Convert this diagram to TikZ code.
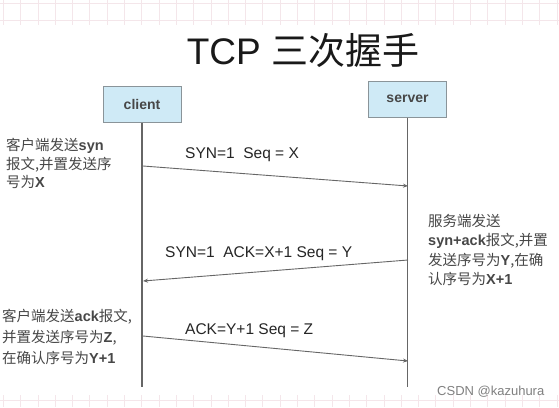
\documentclass[tikz,border=0pt]{standalone}
\usepackage{fontspec}
\setmainfont{Liberation Sans}
\newfontfamily\cjk{Noto Sans CJK SC}
\usetikzlibrary{arrows.meta,positioning}
\definecolor{boxblue}{HTML}{CFEAF6}
\definecolor{boxline}{HTML}{8A9499}
\definecolor{gridpink}{HTML}{F4E6EA}
\definecolor{wire}{HTML}{666666}
\newcommand{\zh}[1]{{\cjk #1}}

\begin{document}
\begin{tikzpicture}[x=1pt,y=-1pt,
	party/.style={draw=boxline,fill=boxblue,line width=1pt,minimum width=78pt,minimum height=36pt,inner sep=0pt,font=\fontsize{14}{18}\selectfont\bfseries,text=black!72},
	lifeline/.style={draw=wire,line width=1.1pt},
	msg/.style={draw=wire,line width=0.9pt,-{Stealth[length=5pt,width=4pt]}},
	msglabel/.style={anchor=west,inner sep=0pt,font=\fontsize{15.5}{18}\selectfont,text=black!85},
	note/.style={anchor=north west,align=left,inner sep=0pt,text=black!72}]
	\fill[white] (0,0) rectangle (559,407);
	\useasboundingbox (0,0) rectangle (559,407);
	% background grid of the screenshot
	\foreach \i in {0,...,32} {
		\draw[gridpink,line width=0.8pt] ({3.3+17.3*\i},0) -- ({3.3+17.3*\i},25);
		\draw[gridpink,line width=0.8pt] ({3.3+17.3*\i},395) -- ({3.3+17.3*\i},407);
	}
	\draw[gridpink,line width=0.8pt] (0,3.3) -- (559,3.3);
	\draw[gridpink,line width=0.8pt] (0,20.7) -- (559,20.7);
	\draw[gridpink,line width=0.8pt] (0,400.7) -- (559,400.7);

	\node[font=\fontsize{37}{42}\selectfont,text=black!90] (title) at (303,51) {TCP \zh{三次握手}};

	\node[party] (client) at (142,104) {client};
	\node[party] (server) at (407.5,99) {server};
	\coordinate (bottom) at (0,387);
	\draw[lifeline] (client.south) -- (client.south |- bottom);
	\draw[lifeline] (server.south) -- (server.south |- bottom);

	\coordinate (c1) at (143,166);
	\coordinate (s1) at (408,186);
	\coordinate (s2) at (408,260);
	\coordinate (c2) at (143,281);
	\coordinate (c3) at (143,336);
	\coordinate (s3) at (408,361);
	\draw[msg] (c1) -- (s1);
	\draw[msg] (s2) -- (c2);
	\draw[msg] (c3) -- (s3);

	\node[msglabel] (syn) at (185,155) {SYN=1\ \ Seq = X};
	\node[msglabel] (synack) at (165,254) {SYN=1\ \ ACK=X+1 Seq = Y};
	\node[msglabel] (ack) at (185,331) {ACK=Y+1 Seq = Z};

	\node[note,font=\fontsize{14.5}{18.5}\selectfont] (note1) at (6,138)
		{\zh{客户端发送}\textbf{syn}\\\zh{报文,并置发送序}\\\zh{号为}\textbf{X}};
	\node[note,font=\fontsize{14.5}{19.5}\selectfont] (note2) at (428,214)
		{\zh{服务端发送}\\\textbf{syn+ack}\zh{报文,并置}\\\zh{发送序号为}\textbf{Y}\zh{,在确}\\\zh{认序号为}\textbf{X+1}};
	\node[note,font=\fontsize{14.5}{21}\selectfont] (note3) at (2,309)
		{\zh{客户端发送}\textbf{ack}\zh{报文,}\\\zh{并置发送序号为}\textbf{Z}\zh{,}\\\zh{在确认序号为}\textbf{Y+1}};

	\node[anchor=west,inner sep=0pt,text=black!50,font=\fontsize{13}{15}\selectfont] (mark) at (437,392) {CSDN @kazuhura};
\end{tikzpicture}
\end{document}
